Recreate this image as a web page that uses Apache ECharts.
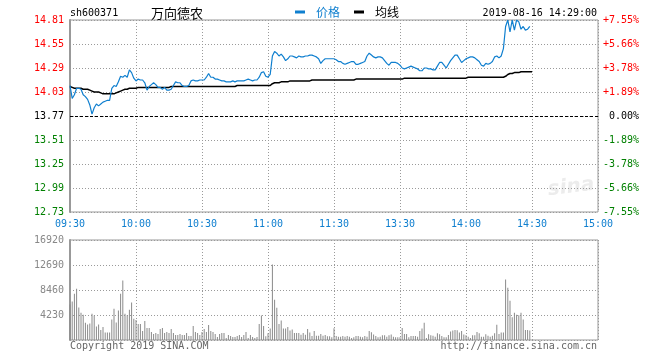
<!DOCTYPE html>
<html>
<head>
<meta charset="utf-8">
<script src="https://cdn.jsdelivr.net/npm/echarts@6/dist/echarts.min.js"></script>
<style>
html,body{margin:0;padding:0;background:#fff;}
#chart{width:660px;height:360px;}
</style>
</head>
<body>
<div id="chart"></div>
<script>
// ---- data ----
const stockCode = 'sh600371';
const stockName = '万向德农';
const dateTime = '2019-08-16 14:29:00';
const prevClose = 13.77;
const timeLabels = ['09:30','10:00','10:30','11:00','11:30','13:30','14:00','14:30','15:00'];
const priceTicks = ['12.73','12.99','13.25','13.51','13.77','14.03','14.29','14.55','14.81'];
const pctTicks = ['-7.55%','-5.66%','-3.78%','-1.89%','0.00%','+1.89%','+3.78%','+5.66%','+7.55%'];
const volTicks = ['','4230','8460','12690','16920'];

// minute prices, 09:30 ... 11:30, 13:01 ... 14:29
const price = [
14.10,13.96,14.00,14.07,14.07,14.06,14.00,13.98,13.95,13.89,
13.79,13.86,13.90,13.88,13.90,13.92,13.93,13.94,13.94,14.07,
14.10,14.09,14.14,14.20,14.19,14.21,14.19,14.27,14.24,14.18,
14.15,14.17,14.16,14.16,14.13,14.05,14.09,14.11,14.13,14.11,
14.08,14.08,14.06,14.08,14.05,14.05,14.06,14.10,14.14,14.13,
14.13,14.10,14.09,14.09,14.10,14.15,14.16,14.15,14.15,14.16,
14.16,14.16,14.19,14.23,14.19,14.19,14.17,14.17,14.16,14.15,
14.15,14.14,14.14,14.14,14.15,14.14,14.15,14.15,14.15,14.15,
14.16,14.17,14.16,14.15,14.16,14.16,14.19,14.24,14.25,14.20,
14.19,14.22,14.42,14.47,14.45,14.42,14.44,14.41,14.37,14.39,
14.42,14.42,14.41,14.40,14.42,14.41,14.41,14.42,14.42,14.43,
14.43,14.42,14.41,14.39,14.34,14.37,14.39,14.39,14.39,14.39,
14.39,
14.38,14.36,14.36,14.34,14.33,14.34,14.35,14.36,14.36,14.33,
14.33,14.34,14.35,14.36,14.42,14.45,14.43,14.41,14.40,14.41,
14.41,14.40,14.37,14.34,14.32,14.35,14.35,14.35,14.34,14.32,
14.29,14.28,14.29,14.30,14.31,14.30,14.29,14.28,14.26,14.26,
14.29,14.29,14.28,14.28,14.27,14.27,14.31,14.35,14.35,14.32,
14.29,14.33,14.37,14.40,14.43,14.43,14.39,14.35,14.37,14.39,
14.40,14.41,14.41,14.40,14.38,14.36,14.32,14.31,14.34,14.33,
14.34,14.36,14.41,14.42,14.40,14.42,14.50,14.74,14.81,14.68,
14.81,14.70,14.81,14.79,14.71,14.74,14.70,14.71,14.74
];

const avgPrice = [
14.09,14.08,14.07,14.07,14.07,14.07,14.06,14.06,14.06,14.05,
14.04,14.03,14.03,14.03,14.02,14.01,14.01,14.01,14.01,14.01,
14.01,14.02,14.03,14.04,14.05,14.06,14.06,14.07,14.07,14.07,
14.07,14.08,14.08,14.08,14.08,14.08,14.08,14.08,14.08,14.08,
14.08,14.08,14.08,14.08,14.08,14.08,14.09,14.09,14.09,14.09,
14.09,14.09,14.09,14.09,14.09,14.09,14.09,14.09,14.09,14.09,
14.09,14.09,14.09,14.09,14.09,14.09,14.09,14.09,14.09,14.09,
14.09,14.09,14.09,14.09,14.09,14.09,14.10,14.10,14.10,14.10,
14.10,14.10,14.10,14.10,14.10,14.10,14.10,14.10,14.10,14.10,
14.10,14.10,14.12,14.13,14.13,14.13,14.14,14.14,14.14,14.14,
14.15,14.15,14.15,14.15,14.15,14.15,14.15,14.15,14.15,14.15,
14.16,14.16,14.16,14.16,14.16,14.16,14.16,14.16,14.16,14.16,
14.16,
14.16,14.16,14.16,14.16,14.16,14.16,14.16,14.16,14.16,14.17,
14.17,14.17,14.17,14.17,14.17,14.17,14.17,14.17,14.17,14.17,
14.17,14.17,14.17,14.17,14.17,14.17,14.17,14.17,14.17,14.17,
14.17,14.18,14.18,14.18,14.18,14.18,14.18,14.18,14.18,14.18,
14.18,14.18,14.18,14.18,14.18,14.18,14.18,14.18,14.18,14.18,
14.18,14.18,14.18,14.18,14.18,14.18,14.18,14.18,14.18,14.18,
14.19,14.19,14.19,14.19,14.19,14.19,14.19,14.19,14.19,14.19,
14.19,14.19,14.19,14.19,14.19,14.19,14.19,14.20,14.22,14.23,
14.23,14.24,14.24,14.24,14.25,14.25,14.25,14.25,14.25,14.25
];

const volume = [
6000,6530,7840,8690,5510,4600,4260,2900,2610,2780,
4430,4150,2270,2610,1700,2210,1250,1250,1250,3460,
5280,2950,5000,7840,10050,4430,4200,5110,6360,3580,
3380,2700,2700,1520,3210,2030,2030,1350,1015,1180,
1015,1860,2030,1180,1350,1180,1860,1180,846,846,
1015,846,846,1180,677,677,2370,1350,1180,846,
1350,1860,1350,2540,1520,1350,1015,508,1015,1180,
1180,338,846,677,508,508,677,846,508,846,
1350,338,846,508,338,508,2720,4150,2380,620,
1130,1930,12780,6820,5450,2720,3290,1930,1930,2210,
1590,1760,1190,1190,1190,900,1190,900,1870,1250,
680,1530,740,740,1020,740,850,620,620,450,
1990,
680,570,570,680,570,680,570,340,450,680,
680,570,450,680,570,1530,1310,910,680,450,
570,800,800,570,800,910,570,450,450,450,
2040,1020,1020,450,680,680,680,570,1530,1930,
2900,340,970,800,740,570,1140,970,680,450,
450,850,1420,1590,1700,1650,1250,1530,910,800,
570,340,800,800,1360,1140,570,570,970,740,
570,740,1140,2560,1020,1250,1250,10220,8860,6650,
3860,4600,4260,4200,4600,3460,1700,1700,1590
];

// ---- chart ----
const RED = '#ff0000', GREEN = '#008000', BLUE = '#0f7fcf';
const MONO = 'DejaVu Sans Mono';
const CJK = 'Noto Sans CJK SC';
const stepCents = 26;
const halfRange = stepCents * 4;

const toCents = p => Math.round((p - prevClose) * 100);
const priceData = price.map((p, i) => [i, toCents(p)]);
const avgData = avgPrice.map((p, i) => [i, toCents(p)]);
const volData = volume.map((v, i) => [i, v]);

const signColor = v => { v = Number(v); return v > 0 ? RED : (v < 0 ? GREEN : '#000'); };
const dotted = { color: '#9a9a9a', width: 1, type: [1, 2] };

const chart = echarts.init(document.getElementById('chart'), null, { renderer: 'canvas' });
chart.setOption({
  animation: false,
  backgroundColor: '#fff',
  textStyle: { fontFamily: MONO },
  legend: {
    left: 295, top: 6, padding: 0, itemGap: 14,
    itemWidth: 10, itemHeight: 3, icon: 'rect',
    textStyle: { fontFamily: CJK, fontSize: 12, padding: [0, 0, 0, 6] },
    data: [
      { name: '价格', textStyle: { color: BLUE } },
      { name: '均线', textStyle: { color: '#000' } }
    ]
  },
  grid: [
    { left: 70, top: 20, width: 528, height: 192, show: true, borderColor: '#999', borderWidth: 1 },
    { left: 70, top: 240, width: 528, height: 100, show: true, borderColor: '#999', borderWidth: 1 }
  ],
  xAxis: [
    { type: 'value', gridIndex: 0, min: 0, max: 240, interval: 30,
      axisLine: { show: false }, axisTick: { show: false },
      axisLabel: { color: BLUE, fontFamily: MONO, fontSize: 10, margin: 7,
        showMinLabel: true, showMaxLabel: true, hideOverlap: false,
        formatter: v => timeLabels[Math.round(v / 30)] },
      splitLine: { show: true, lineStyle: dotted } },
    { type: 'value', gridIndex: 1, min: 0, max: 240, interval: 30,
      axisLine: { show: false }, axisTick: { show: false }, axisLabel: { show: false },
      splitLine: { show: true, lineStyle: dotted } }
  ],
  yAxis: [
    { type: 'value', gridIndex: 0, position: 'left', min: -halfRange, max: halfRange, interval: stepCents,
      axisLine: { show: true, lineStyle: { color: '#999', width: 2 } }, axisTick: { show: false },
      axisLabel: { fontFamily: MONO, fontSize: 10, margin: 6, color: signColor,
        showMinLabel: true, showMaxLabel: true,
        formatter: v => priceTicks[Math.round((v + halfRange) / stepCents)] },
      splitLine: { show: true, lineStyle: dotted } },
    { type: 'value', gridIndex: 0, position: 'right', min: -halfRange, max: halfRange, interval: stepCents,
      axisLine: { show: false }, axisTick: { show: false },
      axisLabel: { fontFamily: MONO, fontSize: 10, margin: 41, align: 'right', color: signColor,
        showMinLabel: true, showMaxLabel: true,
        formatter: v => pctTicks[Math.round((v + halfRange) / stepCents)] },
      splitLine: { show: false } },
    { type: 'value', gridIndex: 1, position: 'left', min: 0, max: 16920, interval: 4230,
      axisLine: { show: true, lineStyle: { color: '#999', width: 2 } }, axisTick: { show: false },
      axisLabel: { fontFamily: MONO, fontSize: 10, margin: 6, color: '#888',
        showMinLabel: true, showMaxLabel: true,
        formatter: v => volTicks[Math.round(v / 4230)] },
      splitLine: { show: true, lineStyle: dotted } }
  ],
  series: [
    { name: '均线', type: 'line', xAxisIndex: 0, yAxisIndex: 0, data: avgData,
      showSymbol: false, color: '#000', lineStyle: { color: '#000', width: 1.5 }, z: 3 },
    { name: '价格', type: 'line', xAxisIndex: 0, yAxisIndex: 0, data: priceData,
      showSymbol: false, color: BLUE, lineStyle: { color: BLUE, width: 1.2 }, z: 4,
      markLine: { silent: true, symbol: 'none', label: { show: false },
        lineStyle: { color: '#000', type: [3, 2], width: 1.2 },
        data: [{ yAxis: 0 }] } },
    { name: 'volume', type: 'bar', xAxisIndex: 1, yAxisIndex: 2, data: volData,
      barWidth: 1, itemStyle: { color: '#8a8a8a' } }
  ],
  graphic: [
    { type: 'text', x: 70, y: 13, style: { text: stockCode, font: '10px ' + MONO, fill: '#000', verticalAlign: 'middle' } },
    { type: 'text', x: 151, y: 13, style: { text: stockName, font: '13px "' + CJK + '"', fill: '#000', verticalAlign: 'middle' } },
    { type: 'text', x: 597, y: 13, style: { text: dateTime, font: '10px ' + MONO, fill: '#000', align: 'right', verticalAlign: 'middle' } },
    { type: 'text', x: 70, y: 346, style: { text: 'Copyright 2019 SINA.COM', font: '10px ' + MONO, fill: '#666', verticalAlign: 'middle' } },
    { type: 'text', x: 597, y: 346, style: { text: 'http://finance.sina.com.cn', font: '10px ' + MONO, fill: '#666', align: 'right', verticalAlign: 'middle' } },
    { type: 'text', x: 548, y: 190, rotation: 0.12, style: { text: 'sina', font: 'italic bold 20px "DejaVu Sans"', fill: '#ececec', verticalAlign: 'middle' }, z: -1 }
  ]
});
</script>
</body>
</html>
